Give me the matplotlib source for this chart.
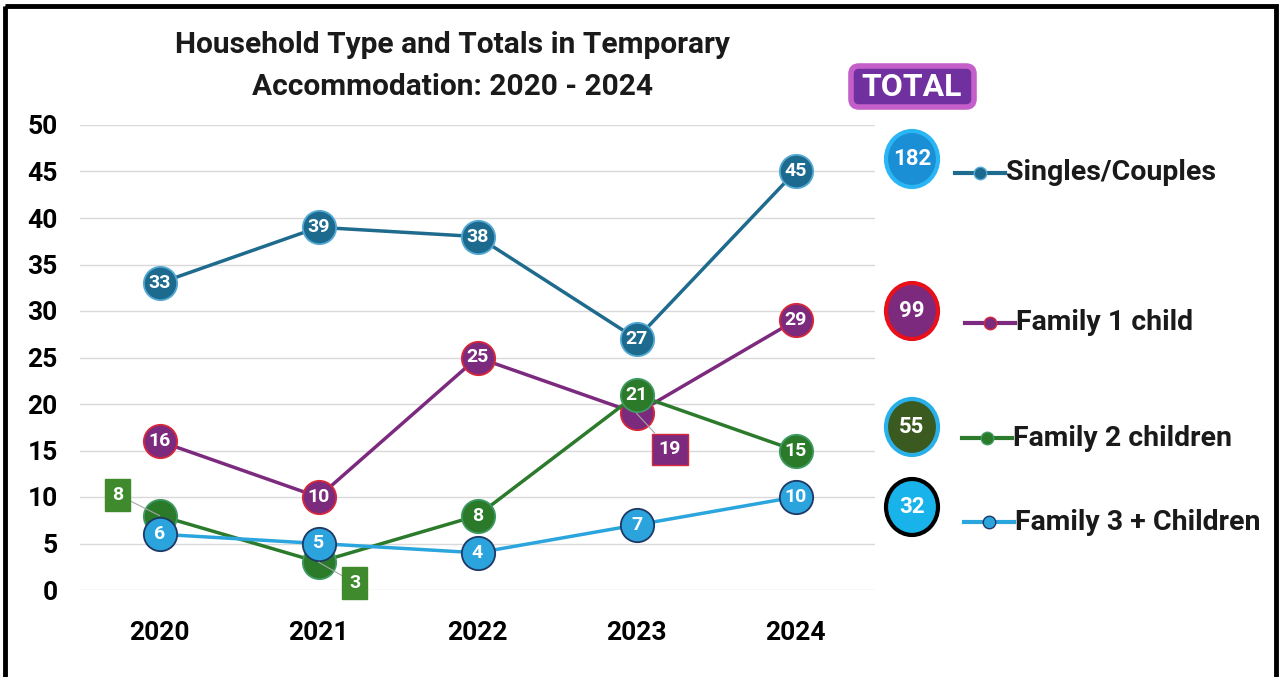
import matplotlib.pyplot as plt
from matplotlib.patches import Ellipse, FancyBboxPatch, Rectangle
from matplotlib.lines import Line2D

plt.rcParams['font.family'] = ['Roboto', 'DejaVu Sans']
plt.rcParams['font.weight'] = 'bold'

# data
years = ['2020', '2021', '2022', '2023', '2024']
singles = [33, 39, 38, 27, 45]
family1 = [16, 10, 25, 19, 29]
family2 = [8, 3, 8, 21, 15]
family3 = [6, 5, 4, 7, 10]
series_names = ['Singles/Couples', 'Family 1 child', 'Family 2 children', 'Family 3 + Children']
totals = [182, 99, 55, 32]

# style per series: line colour, marker fill, marker edge
styles = [
    dict(line='#1F6B8E', fill='#1D6A8F', edge='#55A9D3'),
    dict(line='#7B2A7E', fill='#7B2A7E', edge='#D8283A'),
    dict(line='#2C7A2C', fill='#2A7A2A', edge='#3F9A62'),
    dict(line='#2BA5DE', fill='#2BA3DC', edge='#1F3864'),
]
# labels drawn in boxes with leader lines: (series, year index) -> offset pt
boxed = {(1, 3): (24, -26), (2, 0): (-30, 15), (2, 1): (26, -15)}
box_fill = {1: '#7B2A7E', 2: '#3E8A2C'}
box_edge = {1: '#D8283A', 2: '#3E8A2C'}

W, H = 1283, 677
fig = plt.figure(figsize=(W / 100, H / 100), dpi=100)
ax = fig.add_axes([80 / W, (H - 590) / H, 795 / W, 465 / H])

x = list(range(len(years)))
all_series = [singles, family1, family2, family3]
for i, (vals, st) in enumerate(zip(all_series, styles)):
    z = 3 + i
    ax.plot(x, vals, color=st['line'], lw=2.5, zorder=z, clip_on=False,
            marker='o', markersize=24, markerfacecolor=st['fill'],
            markeredgecolor=st['edge'], markeredgewidth=1.3)
    for j, v in enumerate(vals):
        if (i, j) in boxed:
            dx, dy = boxed[(i, j)]
            ax.annotate(str(v), (j, v), xytext=(dx, dy), textcoords='offset points',
                        ha='center', va='center', color='white', fontsize=14,
                        zorder=10,
                        bbox=dict(boxstyle='square,pad=0.35', fc=box_fill[i],
                                  ec=box_edge[i], lw=1),
                        arrowprops=dict(arrowstyle='-', color='#A6A6A6', lw=0.8,
                                        shrinkA=0, shrinkB=0))
        else:
            ax.text(j, v, str(v), ha='center', va='center', color='white',
                    fontsize=14, zorder=z + 0.5)

ax.set_xlim(-0.5, 4.5)
ax.set_ylim(0, 50)
ax.set_yticks(range(0, 51, 5))
ax.set_xticks(x)
ax.set_xticklabels(years)
ax.tick_params(axis='both', length=0, labelsize=19)
ax.tick_params(axis='y', pad=16)
ax.tick_params(axis='x', pad=22)
ax.grid(axis='y', color='#D9D9D9', lw=1)
ax.set_axisbelow(True)
for s in ax.spines.values():
    s.set_visible(False)

fig.text(452 / W, 1 - 66 / H, 'Household Type and Totals in Temporary\nAccommodation: 2020 - 2024',
         ha='center', va='center', fontsize=21.5, linespacing=1.6, color='#1A1A1A')

# overlay in pixel coordinates for totals panel and frame
ov = fig.add_axes([0, 0, 1, 1])
ov.set_xlim(0, W)
ov.set_ylim(H, 0)
ov.axis('off')
ov.patch.set_alpha(0)

ov.add_patch(FancyBboxPatch((851, 66), 123, 41, boxstyle='round,pad=0,rounding_size=8',
                            fc='#7030A0', ec='#C45EC8', lw=4))
ov.text(912, 87, 'TOTAL', ha='center', va='center', color='white', fontsize=23)

circle_y = [159, 311, 427, 507]
circle_fill = ['#1A8FD6', '#7B2A7E', '#3A5A20', '#17B3EA']
circle_edge = ['#2AB5F5', '#E8101A', '#2AB0E8', '#000000']
legend_y = [173, 323, 438, 522]
legend_x = [955, 965, 962, 964]
for k in range(4):
    ov.add_patch(Ellipse((912, circle_y[k]), 52, 56, fc=circle_fill[k],
                         ec=circle_edge[k], lw=3))
    ov.text(912, circle_y[k], str(totals[k]), ha='center', va='center',
            color='white', fontsize=16)
    st = styles[k]
    lx = legend_x[k]
    ov.add_line(Line2D([lx, lx + 50], [legend_y[k]] * 2, color=st['line'], lw=3))
    ov.plot(lx + 25, legend_y[k], 'o', markersize=9, markerfacecolor=st['fill'],
            markeredgecolor=st['edge'], markeredgewidth=1)
    ov.text(lx + 51, legend_y[k], series_names[k], ha='left', va='center',
            fontsize=20.5, color='#1A1A1A')

ov.add_patch(Rectangle((5, 6), 1271, 700, fill=False, ec='black', lw=3.5))

fig.savefig('out.png', dpi=100)
